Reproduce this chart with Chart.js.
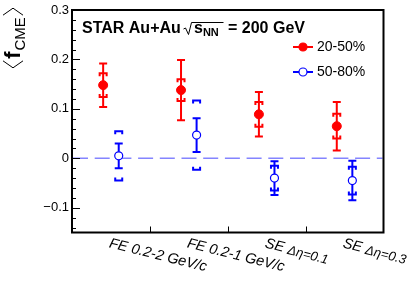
<!DOCTYPE html>
<html>
<head>
<meta charset="utf-8">
<script src="https://cdn.jsdelivr.net/npm/chart.js@4/dist/chart.umd.min.js"></script>
<style>
html,body{margin:0;padding:0;background:#fff;}
canvas{display:block;}
</style>
</head>
<body>
<canvas id="c" width="415" height="284"></canvas>
<script>
// ---- data ----
const categories = ["FE 0.2-2 GeV/c", "FE 0.2-1 GeV/c", "SE Δη=0.1", "SE Δη=0.3"];
const seriesNames = ["20-50%", "50-80%"];
const val2050 = [0.148, 0.138, 0.089, 0.065];
const stat2050 = [0.044, 0.061, 0.045, 0.049];
const sys2050 = [0.024, 0.022, 0.025, 0.025];
const val5080 = [0.005, 0.047, -0.040, -0.045];
const stat5080 = [0.025, 0.034, 0.034, 0.040];
const sys5080 = [0.050, 0.070, 0.025, 0.028];
const yTicks = [-0.1, 0, 0.1, 0.2, 0.3];
const yTickLabels = ["\u22120.1", "0", "0.1", "0.2", "0.3"];
const yMin = -0.15, yMax = 0.3;
const shift = 0.1;

const RED = '#ff0000', BLUE = '#0000ff';
const FONT = '"Liberation Sans", Arial, Helvetica, sans-serif';

function pts(vals, off) { return vals.map((v, i) => ({x: i + 0.5 + off, y: v})); }

const series = [
  {vals: val2050, stat: stat2050, sys: sys2050, off: -shift, color: RED},
  {vals: val5080, stat: stat5080, sys: sys5080, off: shift, color: BLUE}
];

const errPlugin = {
  id: 'errs',
  beforeDatasetsDraw(chart) {
    const ctx = chart.ctx, xs = chart.scales.x, ys = chart.scales.y, a = chart.chartArea;
    ctx.save();
    // zero dashed line
    ctx.strokeStyle = 'rgba(110,110,255,0.85)';
    ctx.lineWidth = 1.5;
    ctx.setLineDash([15, 6.7]);
    const y0 = ys.getPixelForValue(0);
    ctx.beginPath(); ctx.moveTo(a.left + 1, y0); ctx.lineTo(a.right - 1, y0); ctx.stroke();
    ctx.setLineDash([]);
    series.forEach(s => {
      ctx.strokeStyle = s.color;
      s.vals.forEach((v, i) => {
        const x = xs.getPixelForValue(i + 0.5 + s.off);
        // stat
        const yt = ys.getPixelForValue(v + s.stat[i]);
        const yb = ys.getPixelForValue(v - s.stat[i]);
        ctx.lineWidth = 2;
        ctx.beginPath();
        ctx.moveTo(x, yt); ctx.lineTo(x, yb);
        ctx.moveTo(x - 4, yt); ctx.lineTo(x + 4, yt);
        ctx.moveTo(x - 4, yb); ctx.lineTo(x + 4, yb);
        ctx.stroke();
        // sys brackets
        const st = ys.getPixelForValue(v + s.sys[i]);
        const sb = ys.getPixelForValue(v - s.sys[i]);
        const w = 3.5, t = 3;
        ctx.lineWidth = 2;
        ctx.beginPath();
        ctx.moveTo(x - w, st + t); ctx.lineTo(x - w, st); ctx.lineTo(x + w, st); ctx.lineTo(x + w, st + t);
        ctx.moveTo(x - w, sb - t); ctx.lineTo(x - w, sb); ctx.lineTo(x + w, sb); ctx.lineTo(x + w, sb - t);
        ctx.stroke();
      });
    });
    ctx.restore();
  },
  afterDraw(chart) {
    const ctx = chart.ctx, xs = chart.scales.x, ys = chart.scales.y, a = chart.chartArea;
    ctx.save();
    // frame
    ctx.strokeStyle = '#000';
    ctx.lineWidth = 2;
    ctx.strokeRect(a.left, a.top, a.right - a.left, a.bottom - a.top);
    // y ticks (inward)
    ctx.lineWidth = 1;
    for (let k = -7; k <= 15; k++) {
      const v = k * 0.02;
      if (v < yMin - 1e-9 || v > yMax + 1e-9) continue;
      const y = Math.round(ys.getPixelForValue(v)) + 0.5;
      const major = (k % 5 === 0);
      ctx.beginPath(); ctx.moveTo(a.left, y); ctx.lineTo(a.left + (major ? 8 : 4), y); ctx.stroke();
    }
    // x ticks
    for (let i = 1; i < categories.length; i++) {
      const x = Math.round(xs.getPixelForValue(i)) + 0.5;
      ctx.beginPath(); ctx.moveTo(x, a.bottom); ctx.lineTo(x, a.bottom - 6); ctx.stroke();
    }
    // y tick labels
    ctx.fillStyle = '#000';
    ctx.font = '13px ' + FONT;
    ctx.textAlign = 'right'; ctx.textBaseline = 'middle';
    yTicks.forEach((v, i) => ctx.fillText(yTickLabels[i], a.left - 3, ys.getPixelForValue(v)));
    // x labels (rotated, italic)
    ctx.textAlign = 'left'; ctx.textBaseline = 'alphabetic';
    categories.forEach((c, i) => {
      const x = xs.getPixelForValue(i + 0.5);
      ctx.save();
      ctx.translate(x, a.bottom + 5);
      ctx.rotate(14 * Math.PI / 180);
      const idx = c.indexOf('Δ');
      if (idx >= 0) {
        const p1 = c.slice(0, idx), p2 = c.slice(idx);
        ctx.font = 'italic 14.5px ' + FONT;
        ctx.fillText(p1, 0, 10);
        const w1 = ctx.measureText(p1).width;
        ctx.font = 'italic 13px ' + FONT;
        ctx.fillText(p2, w1, 11);
      } else {
        ctx.font = 'italic 14.5px ' + FONT;
        ctx.fillText(c, 0, 10);
      }
      ctx.restore();
    });
    // title text
    ctx.font = 'bold 16px ' + FONT;
    ctx.textAlign = 'left'; ctx.textBaseline = 'alphabetic';
    ctx.fillText('STAR Au+Au', 82, 33);
    // sqrt symbol
    ctx.lineWidth = 1;
    ctx.beginPath();
    ctx.moveTo(183.5, 29); ctx.lineTo(185.5, 28); ctx.lineTo(188.5, 34.5); ctx.lineTo(191.5, 22.5); ctx.lineTo(223.5, 22.5);
    ctx.stroke();
    ctx.font = 'bold 16px ' + FONT;
    ctx.fillText('s', 194, 33);
    const sw = ctx.measureText('s').width;
    ctx.font = 'bold 11px ' + FONT;
    ctx.fillText('NN', 194 + sw, 36);
    ctx.font = 'bold 16px ' + FONT;
    ctx.fillText('= 200 GeV', 228, 33);
    // legend
    const leg = [{y: 47, color: RED, fill: RED, name: seriesNames[0]}, {y: 72, color: BLUE, fill: '#fff', name: seriesNames[1]}];
    leg.forEach(l => {
      ctx.strokeStyle = l.color; ctx.lineWidth = 2;
      ctx.beginPath(); ctx.moveTo(293, l.y); ctx.lineTo(313, l.y); ctx.stroke();
      ctx.beginPath(); ctx.arc(303, l.y, 4, 0, Math.PI * 2);
      ctx.fillStyle = l.fill; ctx.fill();
      ctx.lineWidth = 1.2; ctx.stroke();
      ctx.fillStyle = '#000';
      ctx.font = '14px ' + FONT;
      ctx.textBaseline = 'middle';
      ctx.fillText(l.name, 317, l.y + 0.5);
    });
    // y axis title  <f_CME>
    ctx.save();
    ctx.translate(20, 38);
    ctx.rotate(-Math.PI / 2);
    ctx.fillStyle = '#000';
    ctx.textBaseline = 'alphabetic';
    ctx.font = 'bold 22px ' + FONT;
    const fw = ctx.measureText('f').width;
    ctx.font = '15px ' + FONT;
    const cw = ctx.measureText('CME').width;
    const total = 9 + fw + 1 + cw + 9;
    let xx = -total / 2;
    ctx.strokeStyle = '#000'; ctx.lineWidth = 1;
    ctx.beginPath(); ctx.moveTo(xx + 7, -17); ctx.lineTo(xx, -7); ctx.lineTo(xx + 7, 3); ctx.stroke();
    xx += 9;
    ctx.font = 'bold 22px ' + FONT;
    ctx.fillText('f', xx, 0);
    xx += fw + 1;
    ctx.font = '15px ' + FONT;
    ctx.fillText('CME', xx, 5);
    xx += cw + 2;
    ctx.beginPath(); ctx.moveTo(xx, -17); ctx.lineTo(xx + 7, -7); ctx.lineTo(xx, 3); ctx.stroke();
    ctx.restore();
    ctx.restore();
  }
};

new Chart(document.getElementById('c'), {
  type: 'scatter',
  data: {
    datasets: [
      {label: seriesNames[0], data: pts(val2050, -shift), pointRadius: 4.5, pointBackgroundColor: RED, pointBorderColor: RED, pointBorderWidth: 1},
      {label: seriesNames[1], data: pts(val5080, shift), pointRadius: 4, pointBackgroundColor: '#fff', pointBorderColor: BLUE, pointBorderWidth: 1.2}
    ]
  },
  options: {
    responsive: false,
    animation: false,
    devicePixelRatio: 1,
    layout: {padding: {left: 72, right: 31.5, top: 10, bottom: 51.5}},
    scales: {
      x: {type: 'linear', min: 0, max: 4, display: false},
      y: {type: 'linear', min: yMin, max: yMax, display: false}
    },
    plugins: {legend: {display: false}, tooltip: {enabled: false}}
  },
  plugins: [errPlugin]
});
</script>
</body>
</html>
